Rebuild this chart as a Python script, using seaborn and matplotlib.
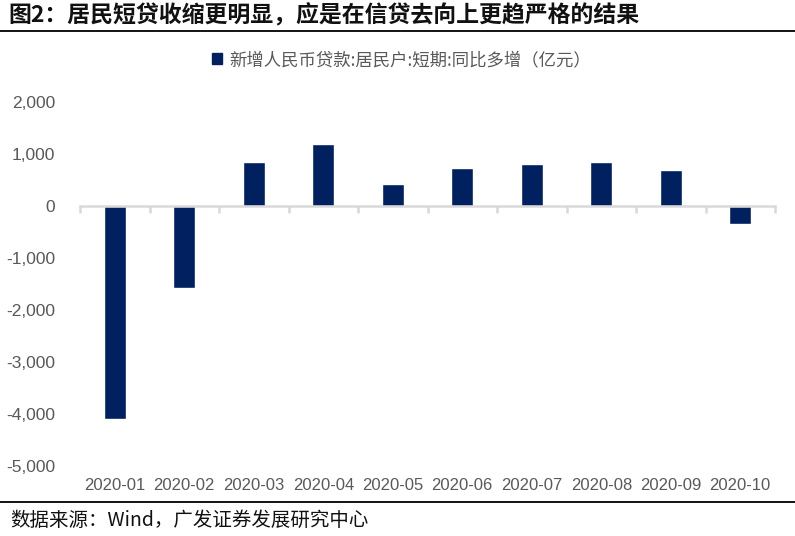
import numpy as np
import matplotlib
matplotlib.use("Agg")
import matplotlib.pyplot as plt
import seaborn as sns
from matplotlib.lines import Line2D
from matplotlib.patches import Patch
from matplotlib.ticker import FuncFormatter

# ------------------------ 数据 ------------------------
months = ["2020-01", "2020-02", "2020-03", "2020-04", "2020-05",
          "2020-06", "2020-07", "2020-08", "2020-09", "2020-10"]
values = [-4100, -1570, 850, 1200, 420, 730, 810, 850, 690, -340]
series_name = "新增人民币贷款:居民户:短期:同比多增（亿元）"
title = "图2：居民短贷收缩更明显，应是在信贷去向上更趋严格的结果"
source = "数据来源：Wind，广发证券发展研究中心"

BAR = "#002060"
GREY = "#595959"
CJK = ["Noto Sans CJK SC", "DejaVu Sans"]

sns.set_style("white")
plt.rcParams["font.family"] = ["Liberation Sans", "Noto Sans CJK SC", "DejaVu Sans"]

fig = plt.figure(figsize=(7.95, 5.36), dpi=100)
ax = fig.add_axes([80 / 795, 70 / 536, 695 / 795, 364 / 536])

sns.barplot(x=months, y=values, color=BAR, saturation=1, width=0.32, ax=ax)

ax.set_ylim(-5000, 2000)
ax.set_xlim(-0.5, len(months) - 0.5)
ax.set_yticks(np.arange(-5000, 2001, 1000))
ax.yaxis.set_major_formatter(FuncFormatter(lambda v, p: f"{int(v):,}"))
ax.set_xlabel("")
ax.set_ylabel("")

# 零轴线：把上边框移到 y=0，刻度朝下
for s in ["left", "right", "bottom"]:
    ax.spines[s].set_visible(False)
ax.spines["top"].set_position(("data", 0))
ax.spines["top"].set_color("#d9d9d9")
ax.spines["top"].set_linewidth(1.8)
ax.set_xticks(np.arange(-0.5, len(months), 1), minor=True)
ax.tick_params(axis="x", which="minor", top=True, bottom=False, direction="in",
               length=5, width=1.8, color="#d9d9d9")
ax.tick_params(axis="x", which="major", length=0, bottom=True, top=False,
               labelbottom=True, labeltop=False, pad=9, labelsize=12, labelcolor=GREY)
ax.tick_params(axis="y", length=0, pad=18, labelsize=12.5, labelcolor=GREY)

# 图例
fig.legend(handles=[Patch(facecolor=BAR, edgecolor=BAR, label=series_name)],
           loc="center", bbox_to_anchor=(0.505, 1 - 60 / 536), frameon=False,
           prop={"family": CJK, "size": 12.5}, labelcolor=GREY,
           handlelength=0.6, handleheight=0.6, handletextpad=0.4)

# 标题与来源
fig.text(8 / 795, 1 - 16 / 536, title, family=CJK, fontsize=16.5, fontweight="bold",
         color="#111111", va="center", ha="left")
fig.add_artist(Line2D([0, 1], [1 - 31 / 536] * 2, transform=fig.transFigure,
                      color="black", lw=1.3))
fig.add_artist(Line2D([0, 1], [1 - 502 / 536] * 2, transform=fig.transFigure,
                      color="black", lw=1.3))
fig.text(10 / 795, 1 - 520 / 536, source, family=CJK, fontsize=14,
         color="#111111", va="center", ha="left")

fig.savefig("out.png", dpi=100)
